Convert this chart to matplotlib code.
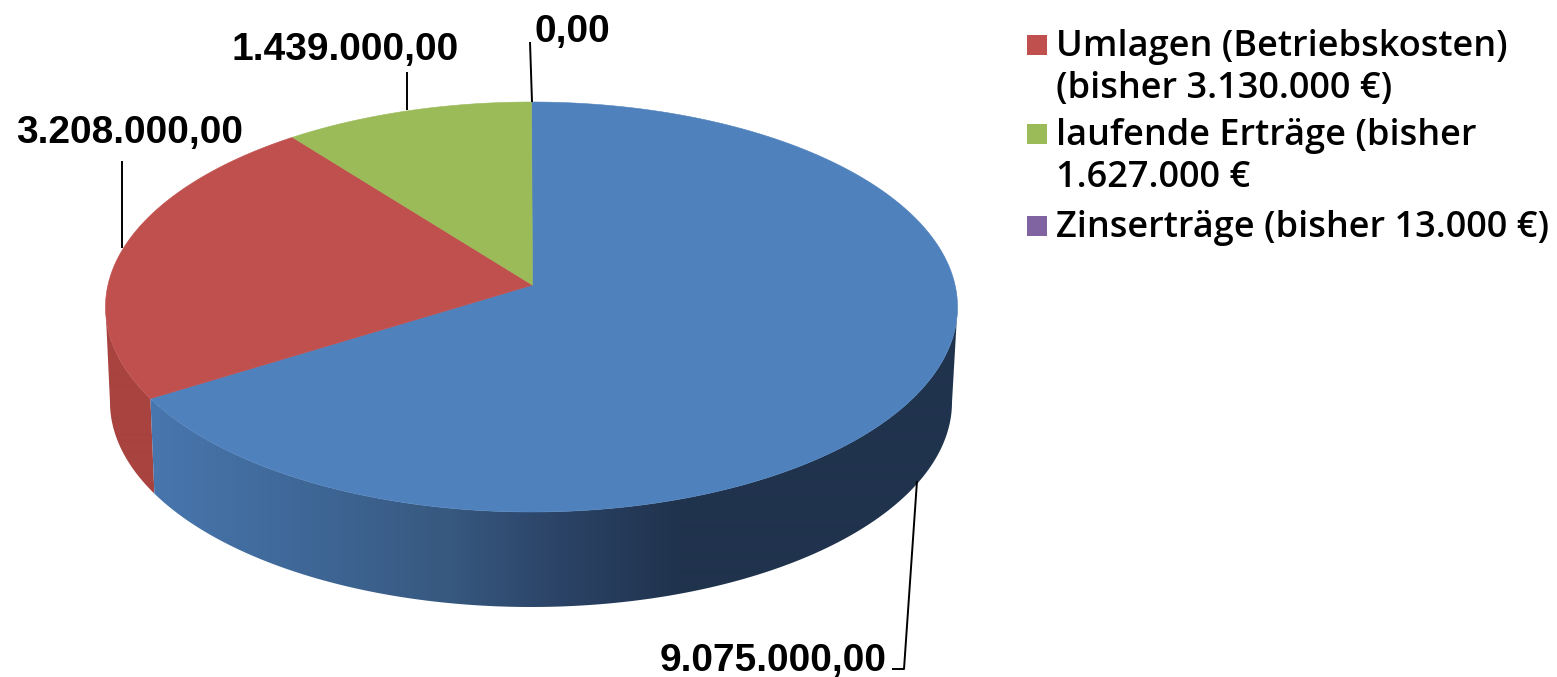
import numpy as np
import matplotlib
matplotlib.use("Agg")
import matplotlib.pyplot as plt
from matplotlib.patches import Polygon, Rectangle
from matplotlib.colors import to_rgb

# --- data ---
values = [9075000.0, 3208000.0, 1439000.0, 0.0]
value_labels = ["9.075.000,00", "3.208.000,00", "1.439.000,00", "0,00"]
top_colors = ["#4F81BD", "#C0504D", "#9BBB59", "#8064A2"]
legend_labels = ["Umlagen (Betriebskosten)\n(bisher 3.130.000 €)",
                 "laufende Erträge (bisher\n1.627.000 €",
                 "Zinserträge (bisher 13.000 €)"]
legend_colors = ["#C0504D", "#9BBB59", "#8064A2"]

W, H = 1557, 677
fig = plt.figure(figsize=(W / 100, H / 100), dpi=100)
ax = fig.add_axes([0, 0, 1, 1])

# geometry of the perspective pie
CX, CY, RX, RY = 531.5, 307.0, 426.0, 205.0
BCX, BCY, BRX, BRY = 531.0, 402.0, 421.0, 205.0
K = 0.107


def persp(theta):
    u, v = np.sin(theta), np.cos(theta)
    d = 1 + K * v
    return u * np.sqrt(1 - K ** 2) / d, (v + K) / d


def top(theta):
    u, v = persp(theta)
    return np.column_stack([CX + RX * u, CY - RY * v])


def bottom(theta):
    u, v = persp(theta)
    return np.column_stack([BCX + BRX * u, BCY - BRY * v])


apex = np.array([[CX + 1, CY - RY * K]])
total = sum(values)
edges = np.concatenate([[0], np.cumsum(values) / total * 2 * np.pi])

blue_stops = [(100, "#4A79B3"), (150, "#4876AE"), (300, "#3F6898"), (450, "#37587F"),
              (560, "#2B4366"), (680, "#20334D"), (960, "#20334D")]
red_stops = [(100, "#A8433F"), (960, "#A8433F")]
side_stops = [blue_stops, red_stops]

# the rim is visible between the two silhouette points of the ellipse
rim0 = np.arccos(-K)
rim1 = 2 * np.pi - rim0

grid_x = np.arange(100, 961)
for i in (1, 0):
    vis0 = max(edges[i], rim0)
    vis1 = min(edges[i + 1], rim1)
    if vis1 <= vis0:
        continue
    ts = np.linspace(vis0, vis1, 400)
    band = np.vstack([top(ts), bottom(ts)[::-1]])
    xs = [s[0] for s in side_stops[i]]
    cs = np.array([to_rgb(s[1]) for s in side_stops[i]])
    img = np.stack([np.interp(grid_x, xs, cs[:, k]) for k in range(3)], axis=-1)[None, :, :]
    im = ax.imshow(img, extent=(100, 961, 700, 0), aspect="auto", zorder=2,
                   interpolation="bilinear")
    clip = Polygon(band, closed=True, transform=ax.transData, fc="none", ec="none")
    ax.add_patch(clip)
    im.set_clip_path(clip)

ax.set_xlim(0, W)
ax.set_ylim(H, 0)
ax.axis("off")

# top surface slices
for i, c in enumerate(top_colors):
    if values[i] <= 0:
        continue
    ts = np.linspace(edges[i], edges[i + 1], 300)
    pts = np.vstack([apex, top(ts)])
    ax.add_patch(Polygon(pts, closed=True, fc=c, ec=c, lw=0.4, zorder=3))

# data labels with leader lines
lab = dict(family=["Liberation Sans", "DejaVu Sans"], fontweight="bold",
           fontsize=28, color="black", zorder=6, ha="center", va="baseline")
ax.text(773, 671, value_labels[0], **lab)
ax.text(130, 143, value_labels[1], **lab)
ax.text(345, 60, value_labels[2], **lab)
ax.text(572, 42, value_labels[3], **lab)
leaders = [([917, 904, 892], [481, 669, 669]),
           ([122, 122], [161, 248]),
           ([407, 407], [72, 110]),
           ([530, 532], [42, 102])]
for xs, ys in leaders:
    ax.plot(xs, ys, color="black", lw=1.4, zorder=5, solid_capstyle="butt")

# legend
leg_y = [45, 134, 226]
for c, y in zip(legend_colors, leg_y):
    ax.add_patch(Rectangle((1027, y - 10), 20, 20, fc=c, ec="none", zorder=4))
leg = dict(family=["Open Sans", "DejaVu Sans"], fontsize=26, color="black", va="center",
           ha="left", linespacing=1.22, fontweight="semibold")
ax.text(1056, 68, legend_labels[0], **leg)
ax.text(1056, 157, legend_labels[1], **leg)
ax.text(1056, 228, legend_labels[2], **leg)

fig.savefig("out.png", dpi=100, facecolor="white")
